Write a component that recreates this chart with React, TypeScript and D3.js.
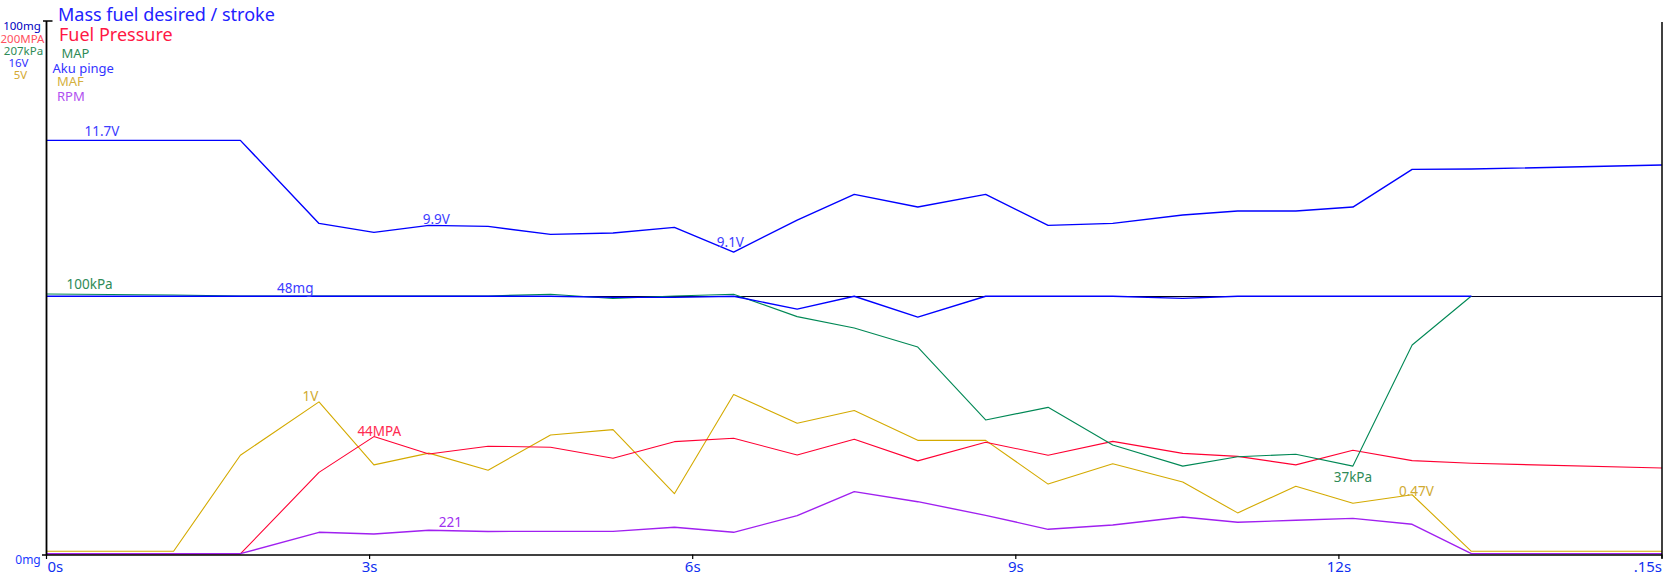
import React from "react";
import * as d3 from "d3";

// ---- data ----
const TIMES = [0, 1.18, 1.8, 2.53, 3.04, 3.55, 4.1, 4.68, 5.26, 5.83, 6.38, 6.97, 7.5, 8.09, 8.72, 9.3, 9.9, 10.55, 11.06, 11.6, 12.13, 12.68, 13.23, 15.0];

const batteryV = [12.42, 12.42, 12.42, 9.93, 9.66, 9.87, 9.84, 9.6, 9.64, 9.81, 9.07, 10.03, 10.8, 10.42, 10.8, 9.87, 9.93, 10.18, 10.3, 10.3, 10.42, 11.55, 11.56, 11.68];
const massFuelMg = [48.4, 48.4, 48.4, 48.4, 48.4, 48.4, 48.4, 48.4, 48.2, 48.2, 48.4, 46.0, 48.4, 44.5, 48.4, 48.4, 48.4, 48.0, 48.4, 48.4, 48.4, 48.4, 48.4];
const fuelPressureMPa = [0.2, 0.2, 0.2, 30.8, 44.2, 37.7, 40.6, 40.2, 36.1, 42.3, 43.6, 37.3, 43.2, 35.1, 42.1, 37.2, 42.4, 37.9, 36.8, 33.6, 39.1, 35.2, 34.2, 32.4];
const mapKPa = [101.1, 100.7, 100.3, 100.3, 100.3, 100.3, 100.3, 101.0, 99.3, 100.3, 101.0, 92.3, 87.9, 80.5, 52.2, 57.1, 42.5, 34.3, 37.9, 38.9, 34.3, 81.3, 100.3];
const mafV = [0.03, 0.03, 0.93, 1.43, 0.84, 0.95, 0.79, 1.12, 1.17, 0.57, 1.5, 1.23, 1.35, 1.07, 1.07, 0.66, 0.85, 0.68, 0.39, 0.64, 0.48, 0.56, 0.03, 0.03];
const rpm = [8, 8, 8, 208, 192, 227, 216, 217, 217, 255, 208, 364, 589, 495, 367, 236, 276, 351, 302, 321, 339, 283, 8, 8];
const referenceMg = [48.45, 48.45];
const referenceTimes = [0, 15];

const TICKS = [0, 3, 6, 9, 12, 15];
const TICK_LABELS = ["0s", "3s", "6s", "9s", "12s", ".15s"];

const LEGEND = ["Mass fuel desired / stroke", "Fuel Pressure", "MAP", "Aku pinge", "MAF", "RPM"];
const AXIS_MAX_LABELS = ["100mg", "200MPA", "207kPa", "16V", "5V"];

type Series = { key: string; values: number[]; max: number; color: string };

const SERIES: Series[] = [
  { key: "maf", values: mafV, max: 5, color: "#d4aa00" },
  { key: "fp", values: fuelPressureMPa, max: 200, color: "#ff0033" },
  { key: "rpm", values: rpm, max: 5000, color: "#a020f0" },
  { key: "map", values: mapKPa, max: 207, color: "#008855" },
  { key: "bat", values: batteryV, max: 16, color: "#0000ff" },
  { key: "mf", values: massFuelMg, max: 100, color: "#0000ff" },
];

const ANNOTATIONS = [
  { text: "11.7V", key: "bat", t: 0.515, dy: -4, color: "#3c3cff" },
  { text: "9.9V", key: "bat", t: 3.62, dy: -2, color: "#3c3cff" },
  { text: "9.1V", key: "bat", t: 6.35, dy: -4, color: "#3c3cff" },
  { text: "100kPa", key: "map", t: 0.4, dy: -5, color: "#2e8b57" },
  { text: "48mg", key: "mf", t: 2.31, dy: -3, color: "#3c3cff" },
  { text: "1V", key: "maf", t: 2.45, dy: -7, color: "#d0aa30" },
  { text: "44MPA", key: "fp", t: 3.09, dy: -2, color: "#ff2a50" },
  { text: "221", key: "rpm", t: 3.75, dy: -4, color: "#a030f0" },
  { text: "37kPa", key: "map", t: 12.13, dy: 16, color: "#2e8b57" },
  { text: "0.47V", key: "maf", t: 12.72, dy: -3, color: "#d0aa30" },
];

const W = 1664;
const H = 575;
const X0 = 46.5;
const X1 = 1662;
const Y0 = 554.5;
const Y1 = 21;
const FONT = "'Noto Sans', 'Open Sans', sans-serif";

export default function App() {
  const x = d3.scaleLinear().domain([0, 15]).range([X0, X1]);
  const yFor = (max: number) => d3.scaleLinear().domain([0, max]).range([Y0, Y1]);

  const lineFor = (s: Series) => {
    const y = yFor(s.max);
    const times = TIMES.slice(0, s.values.length);
    return d3
      .line<number>()
      .x((_, i) => x(times[i]))
      .y((v) => y(v))(s.values) as string;
  };

  const refY = yFor(100);
  const refLine = d3
    .line<number>()
    .x((_, i) => x(referenceTimes[i]))
    .y((v) => refY(v))(referenceMg) as string;

  const legendColors = ["#2222ff", "#ff1744", "#2e8b57", "#3333ff", "#d4b040", "#b050f0"];
  const legendY = [21, 40.5, 57.5, 72.5, 85.5, 101];
  const legendX = [58, 59, 61.5, 52.5, 57, 57];
  const legendSize = [18, 18, 13, 13, 13, 13];

  const axisColors = ["#0000c0", "#ff5060", "#2e8b57", "#3333ff", "#d4a830"];
  const axisY = [30, 43, 55, 66.5, 78.5];
  const axisX = [22, 22.5, 23.5, 18.5, 20.5];

  return (
    <svg
      width={W}
      height={H}
      style={{ position: "absolute", left: 0, top: 0, background: "#fff" }}
      fontFamily={FONT}
    >
      {/* reference line */}
      <path d={refLine} fill="none" stroke="#000022" strokeWidth={1} shapeRendering="crispEdges" />

      {/* series */}
      {SERIES.map((s) => (
        <path
          key={s.key}
          d={lineFor(s)}
          fill="none"
          stroke={s.color}
          strokeWidth={s.key === "bat" || s.key === "mf" || s.key === "rpm" ? 1.4 : 1.1}
          strokeLinejoin="round"
        />
      ))}

      {/* axes */}
      <line x1={X0} x2={X0} y1={Y1} y2={Y0 + 1} stroke="#000" strokeWidth={1.8} />
      <line x1={43} x2={52.5} y1={Y1} y2={Y1} stroke="#000" strokeWidth={1.5} />
      <line x1={X1} x2={X1} y1={Y1 + 1} y2={Y0 + 4} stroke="#000" strokeWidth={1.5} />
      <line x1={42} x2={X1} y1={Y0 + 0.5} y2={Y0 + 0.5} stroke="#000" strokeWidth={1.5} />
      {TICKS.map((t) => (
        <line key={t} x1={x(t)} x2={x(t)} y1={Y0} y2={Y0 + 4.5} stroke="#000" strokeWidth={1.2} />
      ))}
      {TICKS.map((t, i) => (
        <text
          key={"tl" + t}
          x={i === 0 ? x(t) + 1 : x(t)}
          y={572}
          fontSize={15}
          fill="#1030f0"
          textAnchor={i === 0 ? "start" : i === TICKS.length - 1 ? "end" : "middle"}
        >
          {TICK_LABELS[i]}
        </text>
      ))}

      {/* axis max labels */}
      {AXIS_MAX_LABELS.map((l, i) => (
        <text key={l} x={axisX[i]} y={axisY[i]} fontSize={11.5} fill={axisColors[i]} textAnchor="middle">
          {l}
        </text>
      ))}
      <text x={28} y={564} fontSize={12} fill="#1a3cff" textAnchor="middle">
        0mg
      </text>

      {/* legend */}
      {LEGEND.map((l, i) => (
        <text key={l} x={legendX[i]} y={legendY[i]} fontSize={legendSize[i]} fill={legendColors[i]}>
          {l}
        </text>
      ))}

      {/* annotations */}
      {ANNOTATIONS.map((a) => {
        const s = SERIES.find((q) => q.key === a.key)!;
        const times = TIMES.slice(0, s.values.length);
        const interp = d3.scaleLinear().domain(times).range(s.values);
        const yv = yFor(s.max)(interp(a.t));
        return (
          <text key={a.text} x={x(a.t)} y={yv + a.dy} fontSize={13.5} fill={a.color} textAnchor="middle">
            {a.text}
          </text>
        );
      })}
    </svg>
  );
}
